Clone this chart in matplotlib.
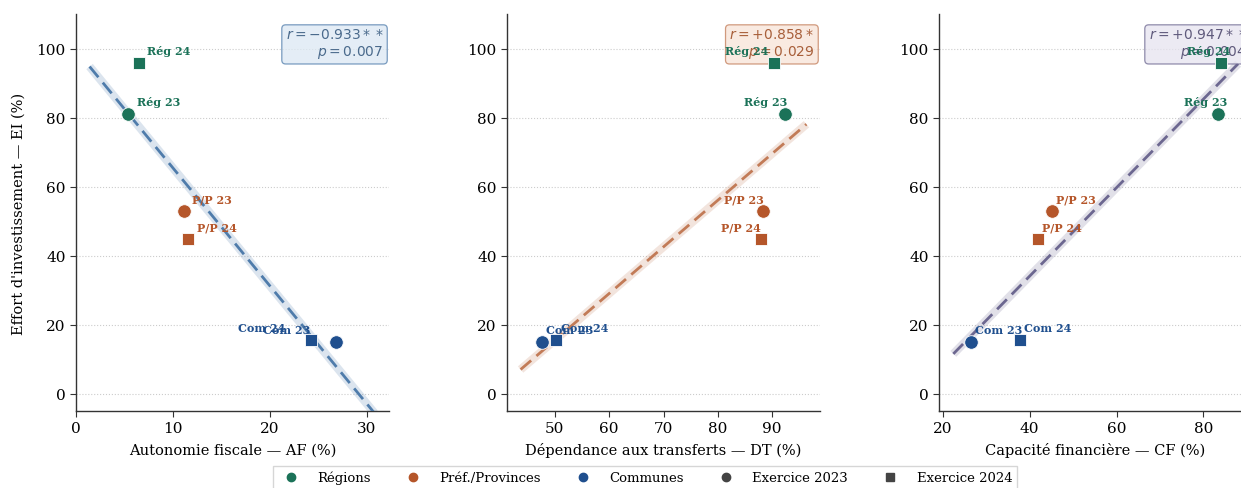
import numpy as np
import matplotlib.pyplot as plt
from matplotlib.lines import Line2D

# --- data ---
labels = ["Rég 23", "Rég 24", "P/P 23", "P/P 24", "Com 23", "Com 24"]
groups = ["reg", "reg", "pp", "pp", "com", "com"]
years = [2023, 2024, 2023, 2024, 2023, 2024]
ei = [81.0, 95.8, 52.9, 44.8, 15.0, 15.6]
af = [5.4, 6.5, 11.1, 11.6, 26.8, 24.2]
dt = [92.3, 90.3, 88.4, 87.9, 47.7, 50.3]
cf = [83.3, 84.0, 45.2, 41.8, 26.4, 37.8]

r_vals = ["-0.933", "+0.858", "+0.947"]
r_stars = ["**", "*", "**"]
p_vals = ["0.007", "0.029", "0.004"]

xlabels = ["Autonomie fiscale — AF (%)",
           "Dépendance aux transferts — DT (%)",
           "Capacité financière — CF (%)"]
ylabel = "Effort d'investissement — EI (%)"

group_colors = {"reg": "#1b7258", "pp": "#b5562a", "com": "#1f4f8e"}
group_names = {"reg": "Régions", "pp": "Préf./Provinces", "com": "Communes"}
line_colors = ["#4f7cab", "#c27b57", "#6c6790"]
box_faces = ["#dce8f3", "#f8e4d8", "#e6e3ef"]
box_text = ["#4a6a8c", "#a85f3a", "#5f5a7c"]

plt.rcParams['font.family'] = ['DejaVu Serif']

W, H = 1241, 489
fig = plt.figure(figsize=(W / 100, H / 100), dpi=100)

xlims = [(0, 32.3), (41.2, 98.8), (19.1, 91.2)]
xticks = [[0, 10, 20, 30], [50, 60, 70, 80, 90], [20, 40, 60, 80]]
lefts = [76, 507, 939]
# label offsets (points) and alignment per point, per panel
offsets = [
    [(6, 9, 'left'), (6, 9, 'left'), (6, 9, 'left'), (6, 9, 'left'), (-18, 9, 'right'), (-18, 9, 'right')],
    [(2, 9, 'right'), (-4, 9, 'right'), (0, 9, 'right'), (0, 9, 'right'), (3, 9, 'left'), (3, 9, 'left')],
    [(7, 9, 'right'), (7, 9, 'right'), (3, 9, 'left'), (3, 9, 'left'), (3, 9, 'left'), (3, 9, 'left')],
]

for k, xs in enumerate([af, dt, cf]):
    ax = fig.add_axes([lefts[k] / W, 1 - 412 / H, 313 / W, 397 / H])
    x = np.array(xs)
    y = np.array(ei)

    ax.grid(axis='y', linestyle=':', color='#cccccc', linewidth=0.8, zorder=0)
    ax.set_axisbelow(True)

    slope, inter = np.polyfit(x, y, 1)
    xx = np.linspace(x.min() - 4, x.max() + 4, 100)
    ax.plot(xx, slope * xx + inter, color=line_colors[k], lw=6, alpha=0.2,
            solid_capstyle='butt', zorder=2)
    ax.plot(xx, slope * xx + inter, color=line_colors[k], lw=2, ls='--',
            dashes=(5, 2.5), zorder=3)

    txt = f"$r = {r_vals[k]}{r_stars[k]}$\n$p = {p_vals[k]}$"
    ax.text(0.982, 0.968, txt, transform=ax.transAxes, ha='right', va='top',
            fontsize=10, color=box_text[k], family='DejaVu Sans', zorder=3.5,
            bbox=dict(boxstyle='round,pad=0.28', facecolor=box_faces[k],
                      edgecolor=line_colors[k], alpha=0.75, linewidth=0.9))

    for i in range(len(labels)):
        mk = 'o' if years[i] == 2023 else 's'
        ax.scatter(x[i], y[i], s=95 if mk == 'o' else 85, marker=mk,
                   color=group_colors[groups[i]], edgecolor='white',
                   linewidth=0.6, zorder=4)

    for i in range(len(labels)):
        dx, dy, ha = offsets[k][i]
        ax.annotate(labels[i], (x[i], y[i]), xytext=(dx, dy),
                    textcoords='offset points', ha=ha, va='center',
                    fontsize=8, fontweight='bold',
                    color=group_colors[groups[i]], zorder=6)

    ax.set_xlim(*xlims[k])
    ax.set_ylim(-5, 110)
    ax.set_xticks(xticks[k])
    ax.set_yticks([0, 20, 40, 60, 80, 100])
    ax.tick_params(labelsize=11, length=4, color='#333333')
    ax.set_xlabel(xlabels[k], fontsize=10.5, labelpad=5)
    if k == 0:
        ax.set_ylabel(ylabel, fontsize=10.5, labelpad=8)
    for s in ['top', 'right']:
        ax.spines[s].set_visible(False)
    for s in ['left', 'bottom']:
        ax.spines[s].set_color('#333333')
        ax.spines[s].set_linewidth(1.0)

handles = [Line2D([], [], marker='o', ls='', color=group_colors[g], markersize=6,
                  label=group_names[g]) for g in ["reg", "pp", "com"]]
handles += [Line2D([], [], marker='o', ls='', color='#444444', markersize=6, label='Exercice 2023'),
            Line2D([], [], marker='s', ls='', color='#444444', markersize=6, label='Exercice 2024')]
fig.legend(handles=handles, loc='lower center', bbox_to_anchor=(645 / W, -0.015),
           ncol=5, fontsize=9.5, frameon=True, edgecolor='#cccccc',
           handletextpad=1.0, columnspacing=2.2, borderpad=0.35, fancybox=False)

fig.savefig("out.png", dpi=100)
